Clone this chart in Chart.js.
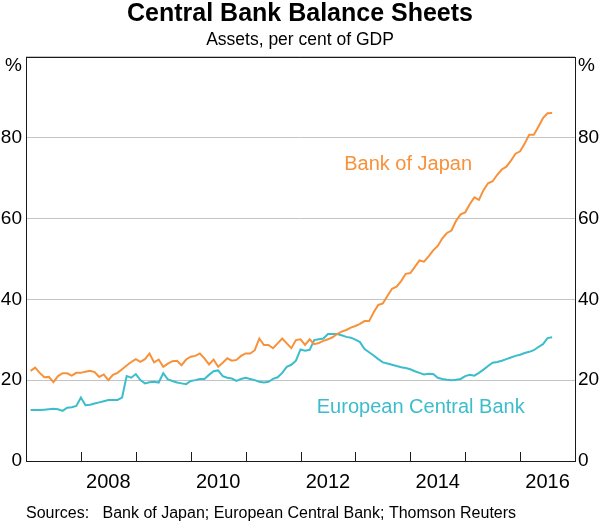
<!DOCTYPE html>
<html>
<head>
<meta charset="utf-8">
<script src="https://cdn.jsdelivr.net/npm/chart.js@4.4.0/dist/chart.umd.min.js"></script>
<style>
html,body{margin:0;padding:0;background:#fff;}
canvas{display:block;}
</style>
</head>
<body>
<canvas id="c" width="600" height="523"></canvas>
<script>
// ---------- data (monthly, end of month, Jan 2007 – Jul 2016) ----------
const startYear = 2007;
const xTickLabels = ['2008', '2010', '2012', '2014', '2016'];
const yTickValues = [0, 20, 40, 60, 80];
const seriesNames = ['Bank of Japan', 'European Central Bank'];
const sourcesText = 'Sources:   Bank of Japan; European Central Bank; Thomson Reuters';

const bojValues = [
  22.3, 23.1, 21.8, 20.7, 20.8, 19.5, 21.0, 21.7, 21.7, 21.1, 21.8, 21.8,
  22.1, 22.3, 22.0, 20.8, 21.4, 20.0, 21.3, 21.8, 22.7, 23.6, 24.5, 25.2,
  24.5, 25.2, 26.6, 24.4, 25.1, 23.3, 24.1, 24.7, 24.8, 23.7, 25.1, 25.8,
  26.0, 26.6, 25.4, 23.9, 25.1, 23.3, 24.3, 25.4, 24.8, 25.0, 26.0, 26.6,
  26.6, 27.4, 30.3, 28.7, 28.7, 27.9, 29.1, 30.3, 29.1, 27.9, 29.9, 30.1,
  28.7, 30.1, 28.9, 29.2, 29.7, 30.1, 30.6, 31.4, 32.0, 32.4, 33.0, 33.4,
  33.9, 34.6, 34.6, 36.8, 38.6, 39.0, 40.8, 42.6, 43.1, 44.5, 46.3, 46.5,
  48.0, 49.6, 49.3, 50.6, 52.1, 53.2, 55.1, 56.4, 57.0, 59.4, 61.0, 61.5,
  63.5, 65.2, 64.6, 67.0, 68.7, 69.2, 70.8, 72.1, 72.8, 74.3, 76.0, 76.6,
  78.5, 80.7, 80.7, 82.7, 84.8, 86.0, 86.1
];
const ecbValues = [
  12.6, 12.6, 12.6, 12.7, 12.8, 12.9, 12.8, 12.4, 13.2, 13.3, 13.6, 15.7,
  13.8, 13.9, 14.2, 14.5, 14.8, 15.1, 15.1, 15.1, 15.7, 21.0, 20.6, 21.5,
  20.0, 19.2, 19.5, 19.6, 19.4, 21.7, 20.2, 19.8, 19.4, 19.2, 19.0, 19.8,
  20.0, 20.3, 20.3, 21.3, 22.2, 22.4, 21.0, 20.6, 20.4, 19.8, 20.3, 20.6,
  20.3, 20.0, 19.6, 19.4, 19.6, 20.3, 20.7, 21.8, 23.3, 23.8, 24.8, 27.6,
  27.3, 27.5, 29.9, 30.1, 30.3, 31.4, 31.4, 31.4, 31.1, 30.7, 30.5, 30.0,
  29.4, 27.7, 26.9, 26.1, 25.2, 24.4, 24.1, 23.8, 23.5, 23.2, 23.0, 22.7,
  22.2, 21.8, 21.4, 21.6, 21.5, 20.6, 20.3, 20.1, 20.0, 20.1, 20.3, 21.0,
  21.3, 21.1, 21.8, 22.6, 23.5, 24.3, 24.5, 24.8, 25.2, 25.6, 26.0, 26.3,
  26.7, 27.0, 27.4, 28.2, 28.9, 30.4, 30.6
];

// ---------- styling ----------
const FONT = "'Liberation Sans', Arial, Helvetica, sans-serif";
const ORANGE = '#F7923B';
const TEAL = '#3BBDCC';

function toPoints(vals) {
  // month i (0 = Jan 2007) plotted at its month end
  return vals.map((v, i) => ({ x: startYear + (i + 1) / 12, y: v }));
}

const overlay = {
  id: 'overlay',
  afterDatasetsDraw(chart) {
    const { ctx, chartArea: a, scales } = chart;
    const xs = scales.x, ys = scales.y;
    ctx.save();
    // year tick marks (inward)
    ctx.strokeStyle = '#1a1a1a';
    ctx.lineWidth = 1;
    xs.ticks.forEach((t, i) => {
      const px = Math.round(xs.getPixelForTick(i)) + 0.5;
      ctx.beginPath();
      ctx.moveTo(px, a.bottom);
      ctx.lineTo(px, a.bottom - 9);
      ctx.stroke();
    });
    // plot frame
    ctx.strokeRect(Math.round(a.left) + 0.5, Math.round(a.top) + 0.5,
                   Math.round(a.right - a.left), Math.round(a.bottom - a.top));
    // unit labels
    ctx.fillStyle = '#000';
    ctx.font = '19px ' + FONT;
    ctx.textBaseline = 'middle';
    ctx.textAlign = 'right';
    ctx.fillText('%', a.left - 4, a.top + 9);
    ctx.textAlign = 'left';
    ctx.fillText('%', a.right + 3, a.top + 9);
    // series labels
    ctx.font = '20px ' + FONT;
    ctx.textAlign = 'center';
    ctx.fillStyle = ORANGE;
    ctx.fillText(seriesNames[0], xs.getPixelForValue(2013.96), ys.getPixelForValue(73.4));
    ctx.fillStyle = TEAL;
    ctx.fillText(seriesNames[1], xs.getPixelForValue(2014.19), ys.getPixelForValue(13.2));
    ctx.restore();
  }
};

new Chart(document.getElementById('c'), {
  type: 'line',
  data: {
    datasets: [
      { label: seriesNames[0], data: toPoints(bojValues), borderColor: ORANGE, borderWidth: 2,
        pointRadius: 0, tension: 0, fill: false, yAxisID: 'y' },
      { label: seriesNames[1], data: toPoints(ecbValues), borderColor: TEAL, borderWidth: 2,
        pointRadius: 0, tension: 0, fill: false, yAxisID: 'y' }
    ]
  },
  options: {
    responsive: false,
    animation: false,
    devicePixelRatio: 1,
    layout: { padding: 0 },
    plugins: {
      legend: { display: false },
      tooltip: { enabled: false },
      title: {
        display: true, text: 'Central Bank Balance Sheets', color: '#000',
        font: { family: FONT, size: 25, weight: 'bold', lineHeight: 1.1 },
        padding: { top: 0, bottom: 2.3 }
      },
      subtitle: {
        display: true, text: 'Assets, per cent of GDP', color: '#000',
        font: { family: FONT, size: 17.5, lineHeight: 1.2 },
        padding: { top: 0, bottom: 5.9 }
      }
    },
    scales: {
      x: {
        type: 'linear', position: 'bottom', min: 2007, max: 2017,
        ticks: {
          stepSize: 1, autoSkip: false, maxRotation: 0, minRotation: 0,
          labelOffset: 27.45, padding: 9, color: '#000',
          font: { family: FONT, size: 20 },
          callback: v => xTickLabels.includes(String(v)) ? String(v) : ''
        },
        grid: { display: false, drawTicks: false },
        border: { display: false },
        title: {
          display: true, text: sourcesText, align: 'start', color: '#000',
          font: { family: FONT, size: 16, lineHeight: 1.2 },
          padding: { top: 0, bottom: 0 }
        },
        afterFit(s) { s.height = 62; }
      },
      y: {
        position: 'left', min: 0, max: 100,
        ticks: {
          stepSize: 20, padding: 4, color: '#000',
          font: { family: FONT, size: 19 },
          callback: v => yTickValues.includes(v) ? String(v) : ''
        },
        grid: { color: '#c4c4c4', lineWidth: 1, drawTicks: false },
        border: { display: false },
        afterFit(s) { s.width = 26; }
      },
      y2: {
        display: true, position: 'right', min: 0, max: 100,
        ticks: {
          stepSize: 20, padding: 3, color: '#000',
          font: { family: FONT, size: 19 },
          callback: v => yTickValues.includes(v) ? String(v) : ''
        },
        grid: { display: false, drawTicks: false },
        border: { display: false },
        afterFit(s) { s.width = 25; }
      }
    }
  },
  plugins: [overlay]
});
</script>
</body>
</html>
